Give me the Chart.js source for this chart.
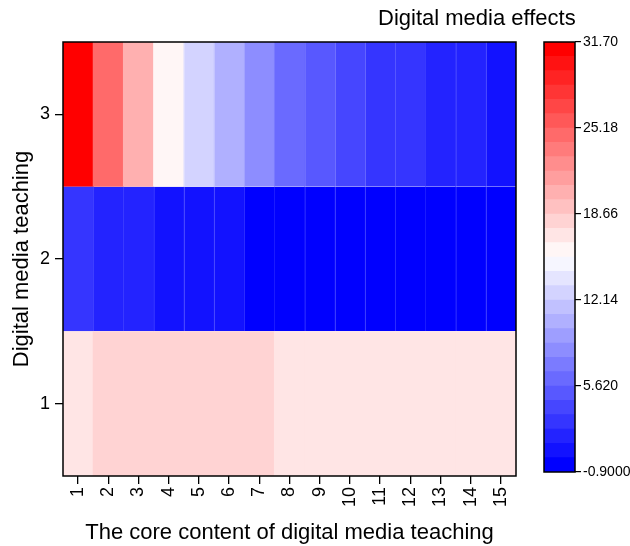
<!DOCTYPE html>
<html>
<head>
<meta charset="utf-8">
<script src="https://cdn.jsdelivr.net/npm/chart.js@4.4.0/dist/chart.umd.min.js"></script>
<style>
  html, body { margin: 0; padding: 0; background: #fff; }
  #wrap { position: relative; width: 630px; height: 546px; font-family: "Liberation Sans", Arial, sans-serif; }
  #heat { position: absolute; left: 0; top: 0; }
  #bar { position: absolute; left: 530px; top: 0; }
  #ttl { position: absolute; left: 378px; top: 5px; font-size: 22px; line-height: 26px; color: #000; white-space: nowrap; }
</style>
</head>
<body>
<div id="wrap">
  <canvas id="heat" width="540" height="546"></canvas>
  <canvas id="bar" width="100" height="546"></canvas>
  <div id="ttl">Digital media effects</div>
</div>
<script>
// core content items along x, teaching level along y
const contentItems = ['1', '2', '3', '4', '5', '6', '7', '8', '9', '10', '11', '12', '13', '14', '15'];
const teachingLevels = [1, 2, 3];

// effect per content item, one array per teaching level
const effectsLevel1 = [17.1, 18.2, 18.2, 18.2, 18.2, 18.2, 18.2, 17.1, 17.1, 17.1, 17.1, 17.1, 17.1, 17.1, 17.1];
const effectsLevel2 = [2.9, 1.8, 1.8, 0.7, 0.7, 0.7, -0.9, -0.9, -0.9, -0.9, -0.9, -0.9, -0.9, -0.9, -0.9];
const effectsLevel3 = [31.7, 24.6, 20.3, 15.9, 12.7, 10.5, 8.3, 6.2, 5.1, 4.0, 2.9, 2.9, 1.8, 1.8, 0.7];

// colour key
const legendTicks = [-0.9, 5.62, 12.14, 18.66, 25.18, 31.7];
const legendTickLabels = ['-0.9000', '5.620', '12.14', '18.66', '25.18', '31.70'];
const nLevels = 30;

const FONT = '"Liberation Sans", Arial, sans-serif';
const vMin = legendTicks[0];
const vMax = legendTicks[legendTicks.length - 1];
const step = (vMax - vMin) / nLevels;

// blue - white - red, returned as [r, g, b]
function bwr(t) {
  if (t < 0.5) {
    const c = Math.round(510 * t);
    return [c, c, 255];
  }
  const c = Math.round(510 * (1 - t));
  return [255, c, c];
}

const rgb = c => `rgb(${c[0]},${c[1]},${c[2]})`;

function levelOf(v) {
  return Math.max(0, Math.min(nLevels - 1, Math.floor((v - vMin) / step + 1e-9)));
}

function cellRgb(v) {
  return bwr(levelOf(v) / (nLevels - 1));
}

const isBlue = v => levelOf(v) < nLevels / 2;

// faint lighter edge between neighbouring blue cells
function seam(v) {
  return rgb(cellRgb(v).map(x => Math.round(x + (255 - x) * 0.1)));
}

const frame = {
  id: 'frame',
  afterDatasetsDraw(chart) {
    const { ctx, chartArea: a } = chart;
    ctx.save();
    ctx.strokeStyle = '#000';
    ctx.lineWidth = 1.5;
    ctx.strokeRect(a.left, a.top, a.right - a.left, a.bottom - a.top);
    ctx.restore();
  }
};

const rows = [effectsLevel1, effectsLevel2, effectsLevel3];

new Chart(document.getElementById('heat'), {
  type: 'bar',
  data: {
    labels: contentItems,
    datasets: rows.map((vals, i) => ({
      data: vals.map(() => [teachingLevels[i] - 0.5, teachingLevels[i] + 0.5]),
      backgroundColor: vals.map(v => rgb(cellRgb(v))),
      borderColor: vals.map(seam),
      borderWidth: vals.map((v, j) => (j > 0 && isBlue(v) ? { left: 1, right: 0, top: 0, bottom: 0 } : 0)),
      borderSkipped: false,
      inflateAmount: 0,
      grouped: false,
      // a hair wider so neighbouring cells overlap instead of leaving gaps
      barPercentage: 1.03,
      categoryPercentage: 1
    }))
  },
  options: {
    responsive: false,
    animation: false,
    layout: { padding: { top: 42, right: 24, left: 0, bottom: 0 } },
    plugins: { legend: { display: false }, tooltip: { enabled: false } },
    scales: {
      x: {
        type: 'category',
        afterFit(scale) { scale.height = 70; },
        grid: { offset: false, drawOnChartArea: false, drawTicks: true, tickLength: 8, color: '#000', lineWidth: 1.3 },
        border: { display: false },
        ticks: { color: '#000', font: { family: FONT, size: 18 }, minRotation: 90, maxRotation: 90, autoSkip: false, padding: 3 },
        title: { display: true, text: 'The core content of digital media teaching', color: '#000', font: { family: FONT, size: 22 }, padding: { bottom: 0, top: 0 } }
      },
      y: {
        type: 'linear',
        min: 0.5,
        max: 3.5,
        afterFit(scale) { scale.width = 63; },
        afterBuildTicks(scale) { scale.ticks = teachingLevels.map(v => ({ value: v })); },
        grid: { drawOnChartArea: false, drawTicks: true, tickLength: 8, color: '#000', lineWidth: 1.3 },
        border: { display: false },
        ticks: { color: '#000', font: { family: FONT, size: 18 }, padding: 5 },
        title: { display: true, text: 'Digital media teaching', color: '#000', font: { family: FONT, size: 22 }, padding: { top: 9, bottom: 0 } }
      }
    }
  },
  plugins: [frame]
});

// colour key as stacked level bands
const bands = [];
for (let k = 0; k < nLevels; k++) {
  bands.push({
    data: [[vMin + k * step, vMin + (k + 1) * step]],
    backgroundColor: rgb(bwr(k / (nLevels - 1))),
    borderWidth: 0,
    grouped: false,
    barPercentage: 1,
    categoryPercentage: 1
  });
}

new Chart(document.getElementById('bar'), {
  type: 'bar',
  data: { labels: [''], datasets: bands },
  options: {
    responsive: false,
    animation: false,
    layout: { padding: { top: 42, right: 0, left: 14, bottom: 74 } },
    plugins: { legend: { display: false }, tooltip: { enabled: false } },
    scales: {
      x: { display: false },
      y: {
        position: 'right',
        type: 'linear',
        min: vMin,
        max: vMax,
        afterFit(scale) { scale.width = 55; },
        afterBuildTicks(scale) { scale.ticks = legendTicks.map(v => ({ value: v })); },
        grid: { drawOnChartArea: false, drawTicks: true, tickLength: 6, color: '#000', lineWidth: 1.2 },
        border: { display: false },
        ticks: { color: '#000', font: { family: FONT, size: 14 }, padding: 2, callback: (val, idx) => legendTickLabels[idx] }
      }
    }
  },
  plugins: [frame]
});
</script>
</body>
</html>
